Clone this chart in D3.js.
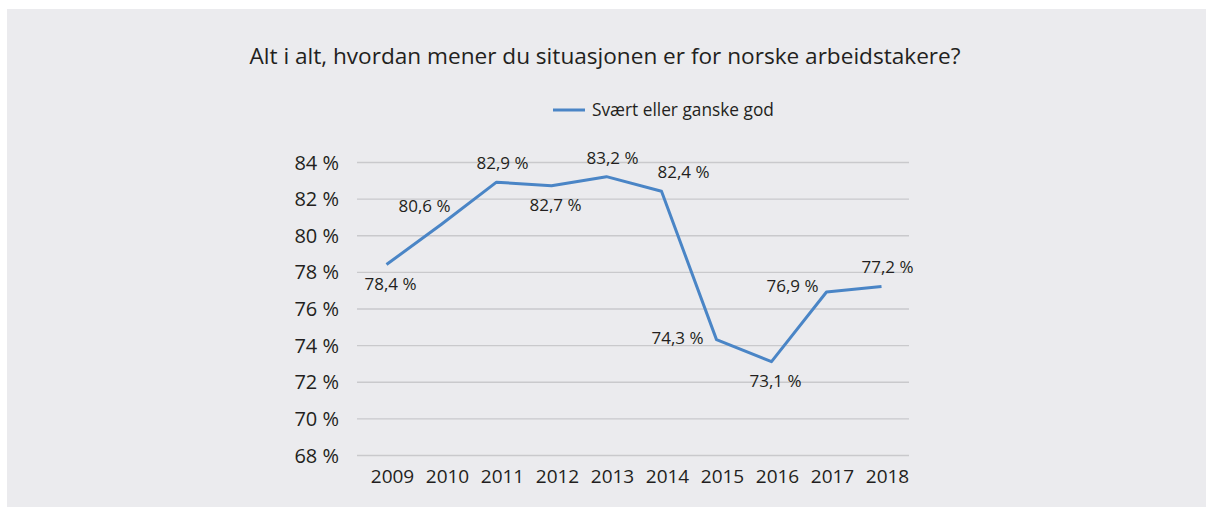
<!DOCTYPE html>
<html>
<head>
<meta charset="utf-8">
<script src="https://cdn.jsdelivr.net/npm/d3@7"></script>
<style>
  body { margin: 0; background: #fff; }
  svg { display: block; font-family: "Open Sans", sans-serif; }
</style>
</head>
<body>
<svg id="chart"></svg>
<script>
// Data
const years = ['2009', '2010', '2011', '2012', '2013', '2014', '2015', '2016', '2017', '2018'];
const values = [78.4, 80.6, 82.9, 82.7, 83.2, 82.4, 74.3, 73.1, 76.9, 77.2];
const labelPlace = ['below', 'aboveLeft', 'above', 'below', 'above', 'aboveRight', 'left', 'below', 'upLeft', 'above'];
const yTicks = [68, 70, 72, 74, 76, 78, 80, 82, 84];
const seriesName = 'Svært eller ganske god';
const title = 'Alt i alt, hvordan mener du situasjonen er for norske arbeidstakere?';

const W = 1206, H = 507;
const margin = { top: 162, right: 297, bottom: 52, left: 359 };
const width = W - margin.left - margin.right;
const height = H - margin.top - margin.bottom;

const svg = d3.select('#chart').attr('width', W).attr('height', H);

// panel background
svg.append('rect')
  .attr('x', 7).attr('y', 9)
  .attr('width', W - 7).attr('height', H - 9)
  .attr('fill', '#ebebee');

// title
svg.append('text')
  .attr('x', 605).attr('y', 64)
  .attr('text-anchor', 'middle')
  .attr('font-size', 22.6)
  .attr('fill', '#231f20')
  .text(title);

// legend
const legend = svg.append('g').attr('transform', 'translate(553, 110)');
legend.append('line')
  .attr('x1', 0).attr('x2', 32)
  .attr('stroke', '#4a85c6').attr('stroke-width', 3);
legend.append('text')
  .attr('x', 39).attr('y', 6)
  .attr('font-size', 17.3)
  .attr('fill', '#231f20')
  .text(seriesName);

const g = svg.append('g').attr('transform', `translate(${margin.left}, ${margin.top})`);

const x = d3.scaleBand().domain(years).range([0, width]);
const y = d3.scaleLinear().domain([68, 84]).range([height, 0]);

// gridlines + y labels
const yAxis = d3.axisLeft(y).tickValues(yTicks).tickSize(-width - 2).tickPadding(18)
  .tickFormat(d => d + ' %');
g.append('g')
  .attr('transform', 'translate(-2, 0)')
  .call(yAxis)
  .attr('font-family', null)
  .call(s => s.select('.domain').remove())
  .call(s => s.selectAll('.tick line').attr('stroke', '#c9c9cc').attr('stroke-width', 1.3))
  .call(s => s.selectAll('.tick text').attr('font-size', 20).attr('fill', '#231f20').attr('dy', '0.35em'));

// x axis labels
const xAxis = d3.axisBottom(x).tickSize(0).tickPadding(15);
g.append('g')
  .attr('transform', `translate(6, ${height})`)
  .call(xAxis)
  .attr('font-family', null)
  .call(s => s.select('.domain').remove())
  .call(s => s.selectAll('.tick text').attr('font-size', 19).attr('fill', '#231f20'));

// line
const line = d3.line()
  .x((d, i) => x(years[i]) + x.bandwidth() / 2)
  .y(d => y(d));

g.append('path')
  .datum(values)
  .attr('fill', 'none')
  .attr('stroke', '#4a85c6')
  .attr('stroke-width', 3)
  .attr('stroke-linejoin', 'round')
  .attr('d', line);

// data labels
const offsets = {
  below: [4, 19],
  above: [6, -19],
  aboveLeft: [-17, -18],
  aboveRight: [22, -19],
  upLeft: [-34, -6],
  left: [-39, -2]
};
g.selectAll('.lbl')
  .data(values)
  .enter()
  .append('text')
  .attr('class', 'lbl')
  .attr('x', (d, i) => x(years[i]) + x.bandwidth() / 2 + offsets[labelPlace[i]][0])
  .attr('y', (d, i) => y(d) + offsets[labelPlace[i]][1])
  .attr('dy', '0.35em')
  .attr('text-anchor', 'middle')
  .attr('font-size', 17)
  .attr('fill', '#231f20')
  .text(d => d.toFixed(1).replace('.', ',') + ' %');
</script>
</body>
</html>
